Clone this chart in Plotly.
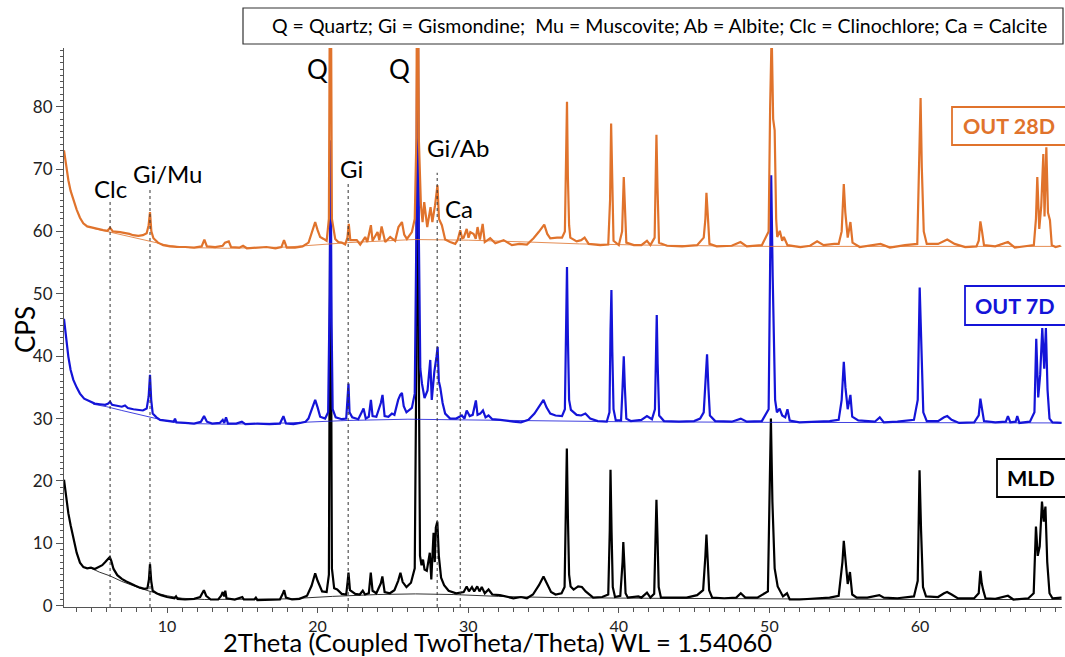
import plotly.graph_objects as go

# ---- diffraction patterns: (2theta, CPS) vertices ----
mld_points = [
    (3.16, 20.2), (3.3, 17.5), (3.45, 14.8), (3.6, 12.9), (3.78, 10.8), (4.0, 8.5), (4.22, 6.9),
    (4.45, 6.2), (4.7, 6.0), (4.95, 6.1), (5.2, 5.9), (5.45, 6.2), (5.7, 6.5), (5.9, 7.0), (6.1, 7.6),
    (6.2, 7.8), (6.3, 7.2), (6.45, 5.9), (6.7, 4.9), (7.0, 4.3), (7.3, 3.9), (7.6, 3.5), (7.9, 3.2),
    (8.2, 2.9), (8.5, 2.7), (8.7, 2.8), (8.8, 4.2), (8.87, 6.7), (8.95, 4.0), (9.05, 2.4), (9.3, 2.0),
    (9.6, 1.7), (10.0, 1.4), (10.5, 1.2), (10.6, 1.5), (10.7, 1.1), (11.2, 1.0), (11.8, 1.1), (12.2, 1.4),
    (12.45, 2.5), (12.6, 1.6), (12.9, 1.0), (13.4, 1.0), (13.6, 1.6), (13.7, 2.2), (13.8, 1.5),
    (13.87, 2.4), (13.95, 1.2), (14.5, 1.0), (15.0, 1.4), (15.1, 1.0), (15.8, 1.0), (15.9, 1.3),
    (16.0, 0.9), (16.8, 1.0), (17.5, 1.0), (17.7, 2.0), (17.78, 2.5), (17.9, 1.3), (18.3, 1.0),
    (18.8, 1.1), (19.3, 1.6), (19.6, 3.2), (19.84, 5.2), (20.0, 4.0), (20.3, 2.3), (20.6, 2.2),
    (20.75, 5.0), (20.85, 72.0), (20.95, 6.0), (21.1, 2.8), (21.3, 2.6), (21.6, 1.9), (21.9, 1.8),
    (22.0, 4.0), (22.05, 5.3), (22.15, 2.5), (22.5, 1.9), (22.8, 1.8), (23.0, 2.4), (23.15, 1.8),
    (23.4, 2.0), (23.53, 5.3), (23.65, 2.4), (23.9, 2.0), (24.2, 3.6), (24.3, 4.7), (24.45, 2.2),
    (24.8, 2.0), (25.1, 2.5), (25.35, 4.0), (25.5, 5.3), (25.65, 3.8), (25.9, 3.0), (26.2, 3.7),
    (26.45, 6.0), (26.56, 40.0), (26.64, 100.0), (26.72, 40.0), (26.8, 8.0), (26.9, 6.5), (27.0, 7.4),
    (27.1, 5.8), (27.25, 5.6), (27.45, 8.5), (27.55, 4.2), (27.7, 11.7), (27.78, 7.0), (27.85, 12.5),
    (27.95, 13.5), (28.05, 8.0), (28.2, 4.5), (28.4, 3.3), (28.7, 2.4), (29.2, 2.0), (29.47, 2.1),
    (29.7, 2.2), (29.9, 3.1), (30.05, 2.3), (30.25, 3.0), (30.4, 2.3), (30.6, 3.1), (30.75, 2.3),
    (30.9, 3.0), (31.1, 2.0), (31.35, 2.6), (31.6, 1.8), (32.1, 1.7), (32.5, 1.5), (33.0, 1.2),
    (33.5, 1.4), (33.9, 1.2), (34.3, 1.8), (34.7, 3.3), (35.0, 4.7), (35.2, 3.8), (35.5, 2.2),
    (35.8, 1.8), (36.2, 2.0), (36.4, 3.0), (36.5, 20.0), (36.55, 25.2), (36.62, 14.3), (36.7, 5.0),
    (36.8, 3.1), (37.0, 2.6), (37.3, 3.1), (37.55, 3.0), (37.8, 2.3), (38.3, 1.3), (38.9, 1.4),
    (39.3, 1.8), (39.4, 12.0), (39.45, 21.8), (39.52, 11.8), (39.6, 3.0), (39.75, 1.4), (40.1, 1.6),
    (40.25, 7.0), (40.3, 10.2), (40.37, 6.6), (40.45, 2.0), (40.6, 1.3), (41.3, 1.5), (41.5, 1.3),
    (41.87, 2.1), (42.1, 1.3), (42.35, 1.9), (42.45, 12.0), (42.5, 17.0), (42.57, 11.0), (42.65, 3.0),
    (42.8, 1.3), (43.5, 1.3), (44.5, 1.3), (45.2, 1.7), (45.6, 2.5), (45.75, 8.0), (45.82, 11.4),
    (45.9, 7.5), (46.0, 2.5), (46.2, 1.3), (47.0, 1.2), (47.8, 1.3), (48.1, 2.0), (48.4, 1.3),
    (49.2, 1.3), (49.9, 2.3), (50.05, 20.0), (50.1, 30.0), (50.2, 16.7), (50.35, 6.0), (50.55, 3.1),
    (50.7, 2.5), (50.9, 1.5), (51.17, 2.0), (51.35, 1.0), (52.0, 1.0), (53.0, 1.2), (54.0, 1.3),
    (54.6, 1.6), (54.85, 7.0), (54.94, 10.4), (55.05, 7.0), (55.2, 3.5), (55.35, 5.4), (55.5, 1.8),
    (55.8, 1.3), (56.5, 1.3), (57.3, 1.7), (57.6, 1.3), (58.5, 1.2), (59.6, 1.5), (59.85, 4.0),
    (59.97, 21.7), (60.07, 12.2), (60.2, 3.0), (60.4, 1.5), (61.2, 1.4), (61.6, 2.0), (61.8, 2.2),
    (62.1, 1.8), (62.5, 1.2), (63.6, 1.2), (63.9, 2.0), (64.01, 5.6), (64.1, 3.6), (64.2, 2.5),
    (64.35, 1.2), (65.0, 1.1), (65.84, 1.6), (66.2, 1.0), (67.2, 1.2), (67.55, 2.0), (67.7, 12.7),
    (67.82, 8.0), (67.95, 9.5), (68.1, 16.7), (68.22, 13.5), (68.33, 15.9), (68.45, 7.0), (68.6, 2.0),
    (68.8, 1.2), (69.4, 1.3),
]
mld_background = [
    (4.9, 6.1), (5.5, 5.4), (6.2, 4.8), (7.0, 3.9), (8.0, 3.0), (8.87, 2.3), (10.0, 1.6), (11.0, 1.2),
    (12.5, 1.0), (15.0, 1.0), (18.0, 1.1), (21.0, 1.5), (24.0, 1.8), (26.5, 1.9), (29.0, 1.8),
    (32.0, 1.5), (36.0, 1.3), (42.0, 1.2), (50.0, 1.1), (60.0, 1.0), (69.4, 1.0),
]

out7d_points = [
    (3.16, 46.0), (3.3, 42.5), (3.45, 39.9), (3.6, 37.8), (3.78, 36.2), (4.0, 35.0), (4.22, 34.0),
    (4.5, 33.2), (4.89, 32.7), (5.2, 32.4), (5.55, 32.3), (5.9, 32.2), (6.1, 32.4), (6.22, 32.7),
    (6.35, 32.2), (6.7, 32.0), (7.0, 31.9), (7.21, 32.1), (7.4, 31.7), (7.77, 31.5), (8.1, 31.4),
    (8.4, 31.3), (8.65, 31.6), (8.78, 33.5), (8.87, 37.0), (8.95, 33.0), (9.05, 30.8), (9.3, 30.2),
    (9.54, 29.8), (10.0, 29.7), (10.45, 29.5), (10.53, 30.0), (10.62, 29.4), (11.2, 29.3), (11.8, 29.2),
    (12.25, 29.5), (12.46, 30.4), (12.65, 29.5), (13.0, 29.2), (13.5, 29.3), (13.7, 29.8), (13.8, 29.3),
    (13.92, 30.2), (14.05, 29.2), (14.6, 29.2), (14.97, 29.5), (15.2, 29.1), (16.0, 29.2), (16.8, 29.1),
    (17.5, 29.2), (17.73, 30.4), (17.9, 29.2), (18.4, 29.1), (18.84, 29.3), (19.2, 29.5), (19.39, 30.0),
    (19.6, 31.5), (19.84, 33.0), (20.0, 31.8), (20.17, 30.3), (20.5, 30.0), (20.7, 31.0), (20.8, 50.0),
    (20.86, 74.6), (20.93, 45.0), (21.0, 31.5), (21.2, 30.2), (21.61, 29.9), (21.9, 30.0), (21.98, 33.0),
    (22.05, 35.6), (22.12, 31.0), (22.3, 30.2), (22.7, 29.9), (23.05, 31.6), (23.2, 30.0), (23.4, 30.3),
    (23.54, 33.0), (23.65, 30.4), (23.9, 30.3), (24.2, 32.5), (24.31, 33.8), (24.45, 30.4), (24.7, 30.3),
    (24.93, 30.8), (25.1, 30.6), (25.35, 33.0), (25.49, 33.8), (25.6, 34.1), (25.72, 32.0), (25.9, 31.0),
    (26.26, 31.7), (26.45, 34.0), (26.56, 60.0), (26.64, 105.0), (26.72, 60.0), (26.82, 38.0),
    (26.93, 35.6), (27.1, 33.3), (27.3, 34.5), (27.48, 39.4), (27.58, 33.0), (27.75, 37.5), (27.9, 40.0),
    (27.97, 41.5), (28.05, 36.0), (28.15, 34.9), (28.3, 32.5), (28.47, 30.8), (28.8, 30.0), (29.2, 30.0),
    (29.58, 30.5), (29.75, 30.0), (29.9, 31.3), (30.1, 30.4), (30.3, 30.6), (30.51, 32.9), (30.62, 30.6),
    (30.8, 30.8), (30.98, 31.3), (31.15, 30.2), (31.35, 30.5), (31.6, 29.9), (32.13, 29.8), (32.6, 29.6),
    (33.0, 29.5), (33.5, 29.4), (34.0, 29.8), (34.4, 30.8), (34.75, 32.0), (35.0, 33.0), (35.2, 31.8),
    (35.45, 30.8), (35.8, 30.5), (36.23, 30.4), (36.42, 31.5), (36.5, 47.0), (36.56, 54.3),
    (36.62, 43.1), (36.7, 33.0), (36.82, 31.4), (37.2, 30.6), (37.5, 30.5), (37.78, 30.8), (38.1, 30.0),
    (38.6, 29.6), (39.2, 29.5), (39.38, 31.0), (39.45, 44.0), (39.51, 50.6), (39.57, 40.7), (39.65, 31.5),
    (39.8, 29.7), (40.15, 29.7), (40.25, 35.0), (40.33, 40.0), (40.4, 35.1), (40.5, 30.0), (40.8, 29.6),
    (41.5, 29.8), (41.87, 30.4), (42.2, 29.9), (42.4, 31.5), (42.47, 42.0), (42.52, 46.6), (42.58, 38.8),
    (42.68, 30.5), (43.0, 29.6), (44.0, 29.5), (45.0, 29.6), (45.4, 30.0), (45.64, 31.0), (45.78, 37.0),
    (45.86, 40.3), (45.95, 35.0), (46.05, 30.5), (46.4, 29.6), (47.5, 29.5), (48.1, 30.0), (48.5, 29.5),
    (49.5, 29.6), (49.95, 31.5), (50.05, 55.0), (50.12, 69.0), (50.22, 52.7), (50.38, 33.0),
    (50.5, 31.0), (50.68, 31.6), (50.85, 30.5), (51.05, 30.2), (51.2, 31.5), (51.35, 29.7), (52.0, 29.4),
    (53.0, 29.5), (54.0, 29.6), (54.6, 29.8), (54.8, 33.0), (54.94, 39.1), (55.05, 35.0), (55.2, 31.5),
    (55.38, 33.8), (55.5, 30.3), (55.9, 29.7), (57.0, 29.5), (57.33, 30.2), (57.6, 29.4), (58.5, 29.5),
    (59.6, 29.8), (59.85, 33.0), (59.98, 51.0), (60.08, 40.7), (60.22, 31.0), (60.45, 29.6),
    (61.2, 29.6), (61.6, 30.2), (61.81, 30.4), (62.1, 29.8), (62.6, 29.3), (63.6, 29.4), (63.9, 30.5),
    (64.01, 33.2), (64.12, 31.4), (64.25, 29.6), (65.0, 29.4), (65.7, 29.5), (65.84, 30.4), (66.0, 29.4),
    (66.35, 29.5), (66.46, 30.4), (66.6, 29.3), (67.3, 29.5), (67.6, 31.0), (67.72, 42.8), (67.85, 33.4),
    (67.98, 37.0), (68.12, 44.5), (68.25, 38.0), (68.36, 44.5), (68.47, 34.6), (68.6, 30.0),
    (68.8, 29.4), (69.4, 29.3),
]
out7d_background = [
    (5.1, 32.3), (6.0, 31.9), (7.0, 31.3), (8.0, 30.7), (8.87, 30.2), (10.0, 29.6), (11.5, 29.2),
    (14.0, 29.1), (18.0, 29.3), (22.0, 29.7), (26.0, 29.9), (30.0, 29.8), (34.0, 29.6), (40.0, 29.5),
    (50.0, 29.4), (60.0, 29.3), (69.4, 29.3),
]

out28d_points = [
    (3.16, 73.0), (3.3, 70.5), (3.45, 68.2), (3.6, 66.5), (3.78, 65.0), (4.0, 63.5), (4.22, 62.2),
    (4.44, 61.3), (4.7, 60.8), (5.1, 60.5), (5.4, 60.4), (5.76, 60.2), (6.05, 60.1), (6.22, 60.6),
    (6.4, 60.0), (6.88, 59.9), (7.2, 59.8), (7.5, 59.6), (7.75, 59.4), (8.1, 59.3), (8.4, 59.4),
    (8.65, 59.7), (8.78, 61.0), (8.87, 63.1), (8.96, 60.0), (9.1, 58.9), (9.4, 58.2), (9.75, 57.8),
    (10.2, 57.6), (10.65, 57.5), (11.2, 57.5), (11.8, 57.4), (12.3, 57.6), (12.48, 58.7), (12.65, 57.6),
    (13.2, 57.5), (13.7, 57.7), (13.85, 58.2), (14.1, 58.4), (14.25, 57.5), (14.8, 57.4), (15.05, 57.7),
    (15.3, 57.3), (16.0, 57.4), (16.6, 57.5), (17.2, 57.3), (17.6, 57.5), (17.77, 58.6), (17.95, 57.4),
    (18.5, 57.4), (19.0, 57.6), (19.4, 58.2), (19.6, 59.6), (19.84, 61.5), (20.0, 60.2), (20.17, 59.1),
    (20.4, 58.8), (20.6, 58.5), (20.75, 62.0), (20.85, 120.0), (20.95, 62.0), (21.17, 58.8),
    (21.37, 58.3), (21.6, 58.2), (21.83, 57.9), (21.98, 59.0), (22.07, 61.2), (22.17, 58.6),
    (22.6, 58.6), (22.83, 57.9), (23.16, 59.1), (23.3, 58.3), (23.54, 61.0), (23.65, 58.5),
    (23.98, 59.9), (24.1, 58.6), (24.25, 60.8), (24.49, 58.3), (24.82, 59.1), (25.15, 58.5),
    (25.37, 60.7), (25.6, 61.5), (25.75, 59.5), (25.93, 58.8), (26.26, 59.9), (26.45, 62.0),
    (26.56, 75.0), (26.64, 130.0), (26.72, 75.0), (26.86, 64.2), (26.97, 61.5), (27.08, 64.7),
    (27.28, 60.7), (27.5, 63.9), (27.62, 61.5), (27.8, 64.2), (27.96, 67.4), (28.06, 62.0),
    (28.25, 61.0), (28.47, 58.7), (28.8, 58.3), (29.14, 58.0), (29.3, 58.6), (29.47, 60.2),
    (29.6, 58.9), (29.7, 59.0), (29.9, 60.4), (30.02, 59.0), (30.14, 59.9), (30.36, 59.6), (30.5, 58.8),
    (30.62, 60.7), (30.78, 58.7), (30.96, 61.2), (31.1, 58.3), (31.46, 58.9), (31.8, 58.1),
    (32.35, 58.6), (32.9, 57.8), (33.4, 58.0), (33.9, 57.9), (34.34, 58.9), (34.68, 59.9), (35.05, 61.1),
    (35.25, 59.6), (35.45, 58.9), (35.9, 59.0), (36.23, 59.0), (36.42, 60.0), (36.5, 75.0),
    (36.56, 80.8), (36.62, 68.7), (36.7, 61.0), (36.78, 59.0), (37.2, 58.4), (37.5, 58.6),
    (37.73, 59.0), (38.0, 58.0), (38.77, 57.8), (39.3, 57.9), (39.42, 65.0), (39.49, 77.3),
    (39.56, 68.0), (39.65, 58.5), (40.0, 57.8), (40.22, 60.0), (40.33, 68.7), (40.4, 63.4),
    (40.5, 58.2), (41.0, 57.8), (41.5, 57.8), (41.87, 58.5), (42.1, 57.8), (42.38, 59.0), (42.45, 68.0),
    (42.5, 75.5), (42.57, 67.0), (42.67, 58.2), (43.2, 57.7), (44.2, 57.6), (45.2, 57.8), (45.64, 59.0),
    (45.75, 62.0), (45.82, 66.2), (45.9, 63.0), (46.02, 58.0), (46.5, 57.6), (47.5, 57.7), (48.08, 58.3),
    (48.5, 57.6), (49.5, 57.8), (49.95, 60.0), (50.05, 80.0), (50.15, 92.0), (50.25, 78.0),
    (50.35, 76.2), (50.45, 62.0), (50.52, 59.1), (50.69, 60.1), (50.85, 58.5), (50.96, 59.1),
    (51.2, 57.8), (52.06, 57.5), (52.7, 57.7), (53.17, 58.4), (53.6, 57.8), (54.3, 58.0), (54.6, 58.0),
    (54.8, 60.0), (54.94, 67.6), (55.04, 63.1), (55.2, 59.0), (55.38, 61.5), (55.52, 58.2), (56.0, 57.5),
    (57.0, 57.8), (57.38, 58.0), (58.0, 57.4), (59.0, 57.8), (59.82, 58.0), (59.95, 70.0), (60.04, 81.4),
    (60.12, 70.3), (60.25, 60.0), (60.45, 58.0), (61.2, 58.0), (61.81, 58.7), (62.3, 58.0), (63.0, 57.5),
    (63.75, 57.6), (63.9, 58.5), (64.01, 61.6), (64.12, 60.0), (64.25, 57.8), (65.0, 57.6),
    (65.84, 58.3), (66.3, 57.4), (67.1, 57.6), (67.56, 57.8), (67.7, 62.0), (67.79, 68.7),
    (67.92, 60.4), (68.05, 64.0), (68.19, 72.4), (68.27, 62.4), (68.39, 73.5), (68.5, 63.0),
    (68.63, 61.8), (68.75, 57.8), (69.0, 57.5), (69.34, 57.7),
]
out28d_background = [
    (5.1, 60.5), (6.0, 60.0), (7.0, 59.5), (8.0, 59.0), (8.87, 58.5), (10.0, 57.8), (11.5, 57.4),
    (14.0, 57.3), (18.0, 57.5), (22.0, 58.2), (26.4, 58.7), (30.0, 58.6), (34.0, 58.3), (37.4, 58.0),
    (42.0, 57.8), (50.0, 57.6), (60.0, 57.6), (69.4, 57.6),
]

# phase markers: label, 2theta, top of dotted guide, label position
marker_labels = ["Clc", "Gi/Mu", "Gi", "Gi/Ab", "Ca"]
marker_2theta = [6.22, 8.87, 22.03, 27.94, 29.47]
marker_tops = [65.0, 67.0, 67.8, 69.4, 61.8]
marker_label_x = [6.22, 10.07, 22.23, 29.34, 29.4]
marker_label_y = [66.9, 69.3, 70.1, 73.4, 63.7]
quartz_label_x = [19.97, 25.42]
quartz_label_y = [86.1, 86.1]

sample_names = ["OUT 28D", "OUT 7D", "MLD"]
sample_colors = ["#e0732c", "#1414d8", "#000000"]

phase_key = ("Q = Quartz; Gi = Gismondine;\u00a0 Mu = Muscovite; Ab = Albite; "
             "Clc = Clinochlore; Ca = Calcite")

X_RANGE = [3.16, 69.43]
Y_RANGE = [-0.2, 89.4]
FONT = "Lato, Carlito, 'Open Sans', sans-serif"

fig = go.Figure()

series = [
    (mld_points, mld_background, sample_colors[2]),
    (out7d_points, out7d_background, sample_colors[1]),
    (out28d_points, out28d_background, sample_colors[0]),
]
for pts, bg, col in series:
    fig.add_trace(go.Scatter(x=[p[0] for p in bg], y=[p[1] for p in bg], mode="lines",
                             line=dict(color=col, width=1), opacity=0.8, hoverinfo="skip"))
    fig.add_trace(go.Scatter(x=[p[0] for p in pts], y=[p[1] for p in pts], mode="lines",
                             line=dict(color=col, width=2.2), hoverinfo="skip"))

shapes = []
annotations = []
for lab, xv, top, lx, ly in zip(marker_labels, marker_2theta, marker_tops, marker_label_x, marker_label_y):
    shapes.append(dict(type="line", xref="x", yref="y", x0=xv, x1=xv, y0=Y_RANGE[0], y1=top,
                       line=dict(color="#333333", width=1, dash="dot")))
    annotations.append(dict(x=lx, y=ly, xref="x", yref="y", text=lab, showarrow=False,
                            xanchor="center", yanchor="middle",
                            font=dict(family=FONT, size=24, color="black")))
for qx, qy in zip(quartz_label_x, quartz_label_y):
    annotations.append(dict(x=qx, y=qy, xref="x", yref="y", text="Q", showarrow=False,
                            xanchor="center", yanchor="middle",
                            font=dict(family=FONT, size=26, color="black")))

# sample name boxes (pixel geometry converted to paper coords)
L, R, T, B = 64, 1062, 48, 607
def px(x):
    return (x - L) / (R - L)
def py(y):
    return (B - y) / (B - T)

def centered_text(x, y, text, font, angle=0, yanchor="middle"):
    return dict(x=px(x), y=py(y), xref="paper", yref="paper", text=text, showarrow=False,
                xanchor="center", yanchor=yanchor, textangle=angle, font=font)

boxes = [(952, 1066, 107, 145), (965, 1066, 286, 325), (997, 1066, 459, 497)]
for (x0, x1, y0, y1), name, col in zip(boxes, sample_names, sample_colors):
    shapes.append(dict(type="rect", xref="paper", yref="paper", x0=px(x0), x1=px(x1),
                       y0=py(y1), y1=py(y0), line=dict(color=col, width=1.8), fillcolor="white",
                       layer="above"))
    annotations.append(centered_text((x0 + 1065) / 2, (y0 + y1) / 2, "<b>" + name + "</b>",
                                     dict(family=FONT, size=21.5, color=col)))

# phase key box
shapes.append(dict(type="rect", xref="paper", yref="paper", x0=px(243), x1=px(1063),
                   y0=py(44), y1=py(8), line=dict(color="#333333", width=1.2), fillcolor="white"))
annotations.append(centered_text(659, 26, phase_key, dict(family=FONT, size=19.5, color="black")))

# axis titles
annotations.append(centered_text(497, 659, "2Theta (Coupled TwoTheta/Theta) WL = 1.54060",
                                 dict(family=FONT, size=25.5, color="black"), yanchor="bottom"))
annotations.append(centered_text(25, 330, "CPS", dict(family=FONT, size=26, color="black"), -90))

fig.update_layout(
    width=1065, height=657, autosize=False,
    margin=dict(l=L, r=1065 - R, t=T, b=657 - B),
    paper_bgcolor="white", plot_bgcolor="white",
    showlegend=False,
    shapes=shapes, annotations=annotations,
    font=dict(family=FONT, size=17, color="black"),
)
fig.update_xaxes(range=X_RANGE, showgrid=False, zeroline=False, showline=True,
                 linecolor="#555555", linewidth=1, ticks="outside", ticklen=5, tickwidth=1,
                 tickcolor="#555555", tickvals=[10, 20, 30, 40, 50, 60], ticklabelstandoff=0,
                 minor=dict(dtick=1, ticks="outside", ticklen=4, tickcolor="#555555"),
                 tickfont=dict(family=FONT, size=16, color="#222222"))
fig.update_yaxes(range=Y_RANGE, showgrid=False, zeroline=False, showline=True,
                 linecolor="#555555", linewidth=1, ticks="outside", ticklen=7, tickwidth=1,
                 tickcolor="#555555", tickvals=[0, 10, 20, 30, 40, 50, 60, 70, 80],
                 minor=dict(dtick=1, ticks="outside", ticklen=3, tickcolor="#555555"),
                 tickfont=dict(family=FONT, size=17, color="#222222"))

fig.write_html("out.html")
